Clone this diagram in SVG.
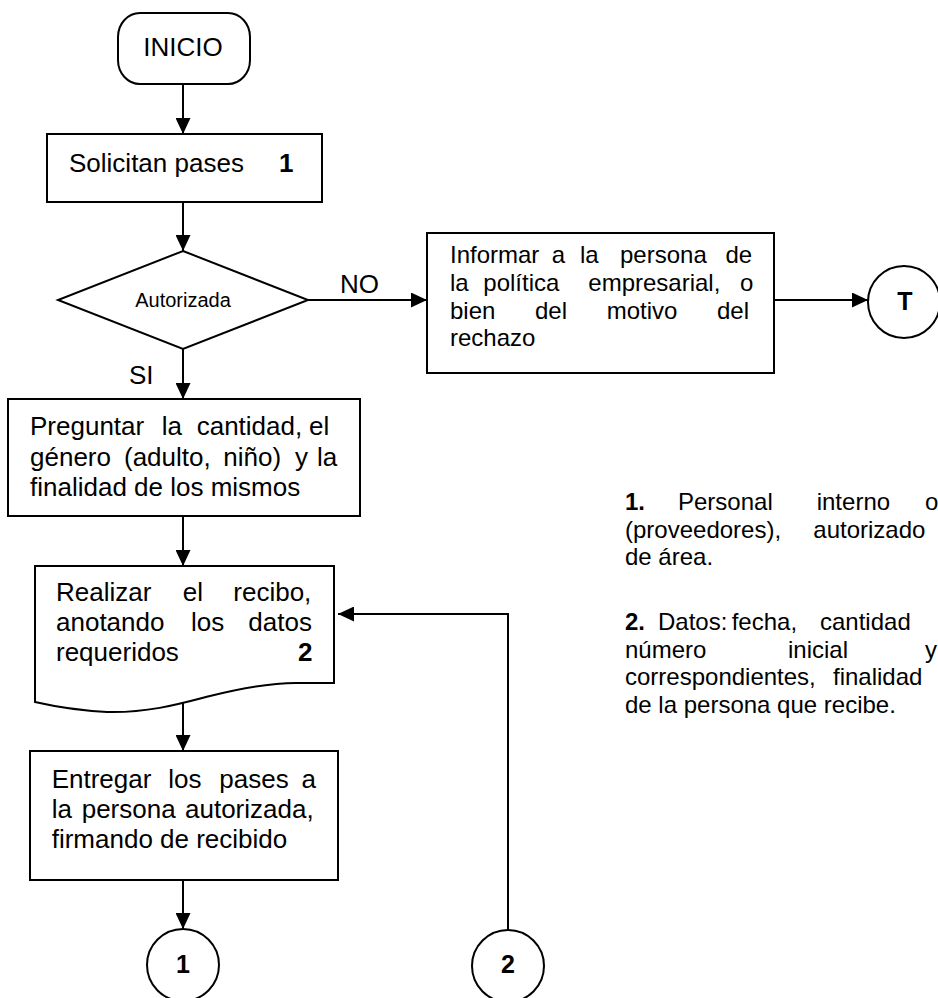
<svg xmlns="http://www.w3.org/2000/svg" width="938" height="998" viewBox="0 0 938 998">
<style>
.shape{fill:#fff;stroke:#000;stroke-width:2}
.t{font-family:"Liberation Sans",Arial,sans-serif;font-size:26px;fill:#000}
.s{font-size:24px}
.b{font-weight:bold}
.m{text-anchor:middle}
.e{text-anchor:end}
.c{fill:none;stroke:#000;stroke-width:2}
</style>
<defs>
<marker id="ah" markerUnits="userSpaceOnUse" markerWidth="16" markerHeight="15" refX="16" refY="7.5" orient="auto">
<path d="M0,0 L16,7.5 L0,15 Z" fill="#000"/>
</marker>
</defs>
<rect width="938" height="998" fill="#fff"/>
<g id="connectors">
<line class="c" x1="183" y1="84" x2="183" y2="134" marker-end="url(#ah)"/>
<line class="c" x1="183" y1="202" x2="183" y2="251" marker-end="url(#ah)"/>
<line class="c" x1="183" y1="349" x2="183" y2="399" marker-end="url(#ah)"/>
<line class="c" x1="183" y1="516" x2="183" y2="566" marker-end="url(#ah)"/>
<line class="c" x1="183" y1="703" x2="183" y2="751" marker-end="url(#ah)"/>
<line class="c" x1="183" y1="880" x2="183" y2="929" marker-end="url(#ah)"/>
<line class="c" x1="308" y1="300" x2="427" y2="300" marker-end="url(#ah)"/>
<line class="c" x1="774" y1="300" x2="868" y2="300" marker-end="url(#ah)"/>
<polyline class="c" points="508,929 508,614 338,614" marker-end="url(#ah)"/>
<text class="t" x="340" y="293">NO</text>
<text class="t" x="129" y="384">SI</text>
</g>
<g id="inicio">
<rect class="shape" x="118" y="13" width="132" height="71" rx="22" ry="24"/>
<text class="t m" x="183" y="56">INICIO</text>
</g>
<g id="solicitan">
<rect class="shape" x="47" y="134" width="275" height="68"/>
<text class="t" x="69" y="172">Solicitan pases</text>
<text class="t b" x="279" y="172">1</text>
</g>
<g id="autorizada">
<polygon class="shape" points="183,251 308,300 183,349 58,300"/>
<text class="t m" x="183" y="307" style="font-size:20px">Autorizada</text>
</g>
<g id="informar">
<rect class="shape" x="427" y="233" width="347" height="140"/>
<text class="t s" y="263"><tspan x="450">Informar</tspan><tspan x="551.7">a</tspan><tspan x="580">la</tspan><tspan x="620">persona</tspan><tspan x="725.5">de</tspan></text>
<text class="t s" y="291"><tspan x="450">la</tspan><tspan x="483.3">política</tspan><tspan x="588.3">empresarial,</tspan><tspan x="740">o</tspan></text>
<text class="t s" y="318.5"><tspan x="450">bien</tspan><tspan x="535">del</tspan><tspan x="606.7">motivo</tspan><tspan x="717">del</tspan></text>
<text class="t s" x="450" y="346">rechazo</text>
</g>
<g id="terminal-t">
<circle class="shape" cx="904" cy="302" r="36"/>
<text class="t b m" x="905" y="310" style="font-size:25px">T</text>
</g>
<g id="preguntar">
<rect class="shape" x="8" y="399" width="352" height="117"/>
<text class="t" y="435"><tspan x="30">Preguntar</tspan><tspan x="161.7">la</tspan><tspan x="196.7">cantidad,</tspan><tspan x="309">el</tspan></text>
<text class="t" y="465.5"><tspan x="30">género</tspan><tspan x="124">(adulto,</tspan><tspan x="223.3">niño)</tspan><tspan x="295">y</tspan><tspan x="317">la</tspan></text>
<text class="t" x="30" y="495.5">finalidad de los mismos</text>
</g>
<g id="realizar">
<path class="shape" d="M35,566 H334 V683 H296 C275,683 250,686 210,696 C183,703 150,713 107,712 Q70,710 35,702 Z"/>
<text class="t" y="601"><tspan x="56">Realizar</tspan><tspan x="182.7">el</tspan><tspan x="233.3">recibo,</tspan></text>
<text class="t" y="631"><tspan x="56">anotando</tspan><tspan x="191">los</tspan><tspan x="248.3">datos</tspan></text>
<text class="t" y="661"><tspan x="56">requeridos</tspan><tspan x="298" class="b">2</tspan></text>
</g>
<g id="entregar">
<rect class="shape" x="30" y="751" width="308" height="129"/>
<text class="t" y="787.5"><tspan x="51.7">Entregar</tspan><tspan x="168.3">los</tspan><tspan x="219.3">pases</tspan><tspan x="301.5">a</tspan></text>
<text class="t" y="817.5"><tspan x="51.7">la</tspan><tspan x="81.7">persona</tspan><tspan x="185">autorizada,</tspan></text>
<text class="t" x="51.7" y="847.5">firmando de recibido</text>
</g>
<g id="conector-1">
<circle class="shape" cx="183" cy="965" r="36"/>
<text class="t b m" x="183" y="973" style="font-size:25px">1</text>
</g>
<g id="conector-2">
<circle class="shape" cx="508" cy="966" r="36"/>
<text class="t b m" x="508" y="973" style="font-size:25px">2</text>
</g>
<g id="notas">
<text class="t s" y="510"><tspan x="625" class="b">1.</tspan><tspan x="678">Personal</tspan><tspan x="816.7">interno</tspan><tspan x="925">o</tspan></text>
<text class="t s" y="537.5"><tspan x="625">(proveedores),</tspan><tspan x="813.3">autorizado</tspan></text>
<text class="t s" x="625" y="565">de área.</text>
<text class="t s" y="630"><tspan x="625" class="b">2.</tspan><tspan x="658">Datos:</tspan><tspan x="731.7">fecha,</tspan><tspan x="820">cantidad</tspan></text>
<text class="t s" y="657.5"><tspan x="625">número</tspan><tspan x="788">inicial</tspan><tspan x="925">y</tspan></text>
<text class="t s" y="685"><tspan x="625">correspondientes,</tspan><tspan x="833">finalidad</tspan></text>
<text class="t s" x="625" y="712.5">de la persona que recibe.</text>
</g>
</svg>
